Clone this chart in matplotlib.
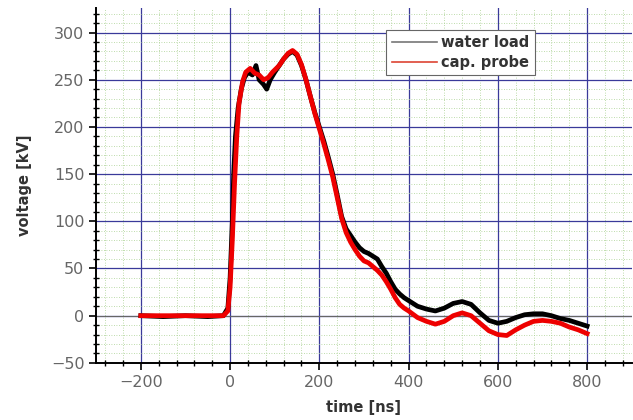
import numpy as np
import matplotlib
matplotlib.use("Agg")
import matplotlib.pyplot as plt
from matplotlib.ticker import MultipleLocator
from matplotlib.lines import Line2D

# water load trace
t_water = [-200, -150, -100, -50, -15, -5, 0, 5, 8, 12, 18, 25, 32, 40, 50, 58, 65, 75,
           82, 90, 100, 110, 120, 130, 140, 150, 160, 170, 180, 190, 200, 210, 220, 230,
           240, 250, 260, 270, 280, 290, 300, 310, 320, 330, 340, 350, 360, 370, 380, 390,
           400, 420, 440, 460, 480, 500, 520, 540, 560, 580, 600, 620, 640, 660, 680, 700,
           720, 740, 760, 780, 800]
v_water = [0, -1, 0, -1, 0, 8, 40, 100, 150, 190, 220, 240, 252, 258, 255, 265, 250, 245,
           240, 250, 258, 265, 272, 277, 280, 276, 265, 250, 232, 215, 200, 185, 168, 150,
           128, 105, 92, 85, 78, 72, 68, 66, 63, 60, 52, 45, 36, 28, 23, 19,
           16, 10, 7, 5, 8, 13, 15, 12, 3, -5, -8, -6, -2, 1, 2, 2,
           0, -3, -5, -8, -11]

# capacitive probe trace
t_probe = [-200, -150, -100, -50, -15, -5, 0, 5, 10, 15, 20, 28, 35, 45, 55, 65, 75, 85,
           95, 110, 120, 130, 140, 150, 160, 170, 180, 190, 200, 210, 220, 230, 240, 250,
           260, 270, 280, 290, 300, 310, 320, 330, 340, 350, 360, 370, 380, 390, 400, 420,
           440, 460, 480, 500, 520, 540, 560, 580, 600, 620, 640, 660, 680, 700, 720, 740,
           760, 780, 800]
v_probe = [0, 0, 0, 0, 0, 5, 30, 80, 140, 190, 225, 248, 258, 262, 257, 255, 250, 252,
           258, 265, 272, 278, 281, 277, 266, 250, 232, 214, 198, 182, 165, 147, 125, 103,
           88, 78, 70, 63, 58, 56, 52, 48, 43, 36, 28, 19, 12, 8, 5, -2,
           -6, -9, -6, 0, 3, 0, -8, -16, -20, -21, -15, -10, -6, -5, -6, -8,
           -12, -15, -19]

fig = plt.figure(figsize=(6.33, 4.2), dpi=100)
ax = fig.add_axes([0.152, 0.136, 0.846, 0.845])

ax.plot(t_water, v_water, color="black", lw=3.4, zorder=3)
ax.plot(t_probe, v_probe, color="#ee0000", lw=3.4, zorder=4)
ax.axhline(0, color="#666666", lw=0.8, zorder=2)

ax.set_xlim(-300, 900)
ax.set_ylim(-50, 326)
ax.xaxis.set_major_locator(MultipleLocator(200))
ax.xaxis.set_minor_locator(MultipleLocator(40))
ax.yaxis.set_major_locator(MultipleLocator(50))
ax.yaxis.set_minor_locator(MultipleLocator(10))

ax.grid(which="major", color="#3a3a9a", lw=0.9, zorder=1)
ax.grid(which="minor", color="#a8d090", lw=0.6, ls=(0, (1, 2)), zorder=0)

for s in ["top", "right"]:
    ax.spines[s].set_visible(False)
for s in ["left", "bottom"]:
    ax.spines[s].set_linewidth(1.4)
ax.tick_params(which="major", direction="out", length=5, width=1.2,
               labelsize=11.5, labelcolor="#666666")
ax.tick_params(which="minor", direction="inout", length=5, width=1.0)

ax.set_xlabel("time [ns]", fontsize=10.5, fontweight="bold", color="#333333")
ax.set_ylabel("voltage [kV]", fontsize=10.5, fontweight="bold", color="#333333")
ax.yaxis.set_label_coords(-0.12, 0.5)
ax.xaxis.set_label_coords(0.5, -0.105)

handles = [Line2D([], [], color="#777777", lw=1.2),
           Line2D([], [], color="#dd4433", lw=1.2)]
leg = ax.legend(handles, ["water load", "cap. probe"], loc="upper left",
                bbox_to_anchor=(0.542, 0.937), fancybox=False, framealpha=1,
                edgecolor="#666666", handlelength=3.1, handletextpad=0.3,
                borderpad=0.35, labelspacing=0.3, borderaxespad=0,
                prop={"weight": "bold", "size": 10.5})
leg.get_frame().set_linewidth(0.8)
for txt in leg.get_texts():
    txt.set_color("#333333")

fig.savefig("out.png", dpi=100)
